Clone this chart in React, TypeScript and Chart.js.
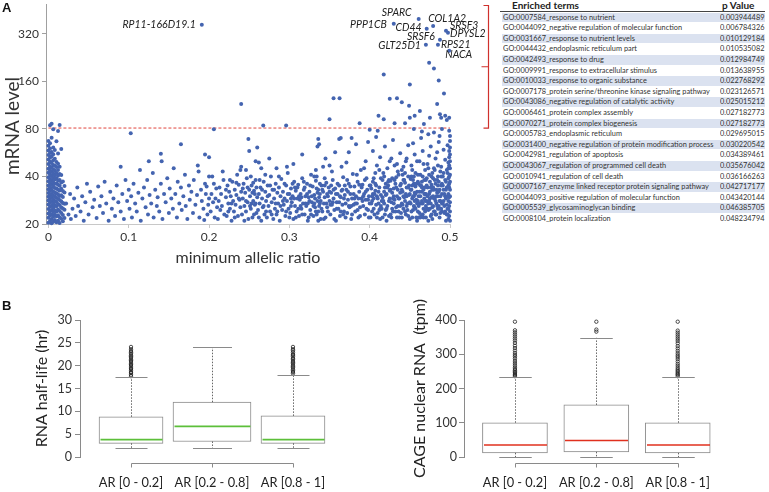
import React, { useEffect, useRef } from "react";
import { Chart, registerables } from "chart.js";
Chart.register(...registerables);

const FONT = "Lato, 'Open Sans', sans-serif";
const BLUE = "#4464b0";

// ---------------- Panel A: scatter data ----------------
const scatterXTicks = [0, 0.1, 0.2, 0.3, 0.4, 0.5];
const scatterYTicks = [20, 40, 80, 160, 320];
const thresholdLevel = 81;

const nearZeroPts: number[][] = [
  [0,20.4],[0,21.9],[0,23.3],[0,24.9],[0,26.6],[0,28.2],[0,29.7],[0,31.4],[0,33.2],[0,35.1],[0,37.3],[0,39.6],[0,42.2],[0,44.8],[0,47.9],[0,51.2],[0,54.6],[0,58.3],[0,62.5],[0,67.1],
  [0.002,20.9],[0.002,22.6],[0.002,24.1],[0.002,25.7],[0.002,27.4],[0.002,29.0],[0.002,30.6],[0.002,32.3],[0.002,34.2],[0.002,36.4],[0.002,38.5],[0.002,41.0],[0.002,43.4],[0.002,46.3],[0.002,49.5],[0.002,52.8],[0.002,56.4],[0.002,60.2],[0.002,64.8],[0.002,84.5],
  [0.004,20.2],[0.004,21.5],[0.004,23.0],[0.004,24.5],[0.004,26.1],[0.004,27.8],[0.004,29.4],[0.004,31.0],[0.004,32.9],[0.004,35.6],[0.004,37.9],[0.004,40.2],[0.004,42.9],[0.004,45.5],[0.004,48.7],[0.004,53.5],[0.004,57.1],[0.004,70.3],[0.004,86.2],
  [0.006,20.7],[0.006,22.2],[0.006,23.8],[0.006,25.3],[0.006,27.0],[0.006,28.6],[0.006,30.3],[0.006,32.0],[0.006,34.6],[0.006,36.8],[0.006,39.1],[0.006,41.7],[0.006,44.3],[0.006,47.2],[0.006,50.6],[0.006,55.3],[0.006,61.0],[0.006,79.5],
  [0.008,21.2],[0.008,22.9],[0.008,24.4],[0.008,26.3],[0.008,28.0],[0.008,29.9],[0.008,31.8],[0.008,33.8],[0.008,35.9],[0.008,38.2],[0.008,40.7],[0.008,43.6],[0.008,46.8],[0.008,51.7],[0.008,58.9],
  [0.010,20.5],[0.010,22.4],[0.010,24.0],[0.010,25.9],[0.010,27.6],[0.010,29.3],[0.010,31.2],[0.010,33.5],[0.010,36.1],[0.010,38.9],[0.010,42.0],[0.010,45.9],[0.010,49.3],[0.010,66.8],
  [0.012,21.0],[0.012,22.7],[0.012,24.7],[0.012,26.8],[0.012,28.8],[0.012,30.9],[0.012,33.0],[0.012,35.4],[0.012,37.6],[0.012,40.4],[0.012,44.0],[0.012,48.2],[0.012,55.8],[0.012,77.6],
  [0.014,20.3],[0.014,22.1],[0.014,24.2],[0.014,26.4],[0.014,28.4],[0.014,30.1],[0.014,32.6],[0.014,34.9],[0.014,38.0],[0.014,41.5],[0.014,46.0],[0.014,84.8],
  [0.016,21.6],[0.016,23.5],[0.016,25.5],[0.016,27.9],[0.016,30.4],[0.016,33.4],[0.016,36.6],[0.016,40.9],[0.016,59.6],
  [0.018,20.8],[0.018,22.8],[0.018,25.1],[0.018,27.2],[0.018,29.6],[0.018,32.4],[0.018,37.2],
  [0.020,21.8],[0.020,24.6],[0.020,26.9],[0.020,31.7],[0.020,34.8],
];

const sparsePts: number[][] = [
  [0.022,27],[0.025,23],[0.027,31],[0.028,21.5],[0.03,25],[0.032,29],[0.034,22.5],[0.036,34],[0.037,26],[0.04,24],
  [0.042,30],[0.044,21],[0.046,27.5],[0.048,36],[0.05,23],[0.052,32],[0.055,25.5],[0.057,28.5],[0.06,21.8],[0.062,34.5],
  [0.064,26],[0.066,30],[0.068,23.5],[0.07,37],[0.072,27],[0.075,21],[0.077,32],[0.079,25],[0.081,29],[0.083,22.5],
  [0.085,35],[0.087,27.5],[0.09,24],[0.092,31],[0.094,21.5],[0.096,38],[0.098,28],[0.1,33],[0.101,25],[0.103,30],
  [0.104,22],[0.106,36],[0.108,27],[0.11,24],[0.112,31.5],[0.114,44],[0.115,21],[0.117,29],[0.119,34],[0.121,25.5],
  [0.123,38],[0.124,23],[0.126,30.5],[0.128,27],[0.13,42],[0.131,22],[0.133,33],[0.135,26],[0.136,29.5],[0.138,24],
  [0.14,36],[0.141,50],[0.142,21.5],[0.144,31],[0.146,27.5],[0.148,39],[0.15,23.5],[0.151,33.5],[0.153,29],[0.155,25],
  [0.156,45],[0.158,31],[0.16,22],[0.161,37],[0.163,27],[0.165,34],[0.166,24.5],[0.168,30],[0.17,41],[0.171,26],
  [0.173,21.5],[0.175,35],[0.176,28.5],[0.178,32],[0.18,23.5],[0.181,38],[0.183,26.5],[0.185,30.5],[0.186,47],[0.188,22],
  [0.19,33],[0.191,28],[0.193,25],[0.195,36],[0.196,31],[0.198,23],[0.2,29],[0.2,40],[0.199,26.5],[0.197,34.5],
  [0.194,21.2],[0.187,43],[0.09,46],[0.125,50],[0.195,55],[0.2,53],[0.14,55.6],[0.165,64],[0.1025,75],
];

const midPts: number[][] = [
  [0.202,24],[0.203,31],[0.205,27.5],[0.206,36],[0.207,22],[0.208,29],[0.209,33.5],[0.21,25.5],[0.204,40],
  [0.211,21.5],[0.212,28],[0.213,34],[0.214,24.5],[0.215,31],[0.216,26],[0.218,38],[0.219,23],[0.217,43],
  [0.221,29.5],[0.222,22.5],[0.223,35],[0.224,27],[0.225,32],[0.226,25],[0.227,30],[0.228,21],[0.229,37],[0.23,28],
  [0.231,24],[0.232,33],[0.233,26.5],[0.234,30.5],[0.235,41],[0.236,22.5],[0.237,35.5],[0.238,28.5],[0.239,25.5],[0.24,32],[0.24,46],
  [0.241,23],[0.242,29],[0.243,36],[0.244,26],[0.245,31.5],[0.246,24],[0.247,39],[0.248,27.5],[0.249,21.5],[0.25,33],[0.25,58],[0.246,44],
  [0.251,30],[0.252,25],[0.253,35],[0.254,22],[0.255,28],[0.256,32.5],[0.257,26.5],[0.258,38],[0.259,23.5],[0.26,29.5],[0.253,27],[0.257,31],[0.255,36.5],[0.26,61],[0.258,50],
  [0.261,24.5],[0.262,31],[0.263,27],[0.264,34],[0.265,21],[0.266,29],[0.267,25.5],[0.268,37],[0.269,23],[0.27,32],[0.265,45],
  [0.271,28],[0.272,22],[0.273,35],[0.274,26],[0.275,30.5],[0.276,24],[0.277,40],[0.278,27.5],[0.279,33],[0.28,21.5],[0.275,52],
  [0.281,29],[0.282,25],[0.283,36],[0.284,23],[0.285,31.5],[0.286,27],[0.287,34],[0.288,21],[0.289,30],[0.29,38.5],
  [0.291,24.5],[0.292,32],[0.293,26.5],[0.294,29],[0.295,22.5],[0.296,35],[0.297,28],[0.298,42],[0.299,25],[0.3,31],
  [0.301,23.5],[0.302,33.5],[0.303,27.5],[0.304,30],[0.305,21.5],[0.306,37],[0.307,26],[0.308,32.5],[0.309,24],[0.31,29],[0.305,48],
  [0.311,35.5],[0.312,22.5],[0.313,28.5],[0.314,31],[0.315,25],[0.316,39],[0.317,27],[0.318,33],[0.319,23],[0.32,30],[0.316,55],
  [0.321,26],[0.322,36],[0.323,21],[0.324,29.5],[0.325,32],[0.326,24.5],[0.327,41],[0.328,27.5],[0.329,34.5],[0.33,22.5],[0.325,28],
  [0.331,30.5],[0.332,25.5],[0.333,37.5],[0.334,23],[0.335,28],[0.336,33],[0.337,26],[0.338,31],[0.339,21.5],[0.34,35],[0.332,29],[0.334,40],[0.336,24],[0.338,27],[0.333,44],[0.335,62],[0.337,64],
  [0.341,24],[0.342,32],[0.343,27],[0.344,29.5],[0.345,22],[0.346,36.5],[0.347,25.5],[0.348,30],[0.349,34],[0.35,28],[0.35,47],[0.345,52],
  [0.351,23],[0.352,31.5],[0.353,26.5],[0.354,38],[0.355,29],[0.356,24.5],[0.357,33.5],[0.358,21],[0.359,27.5],[0.36,31],[0.353,43],[0.357,57],
  [0.361,25],[0.362,35],[0.363,22.5],[0.364,29.5],[0.365,32.5],[0.366,26.5],[0.367,39.5],[0.368,24],[0.369,30.5],[0.37,27],[0.362,69],[0.365,46],
  [0.371,33],[0.372,23.5],[0.373,28.5],[0.374,36],[0.375,25.5],[0.376,31],[0.377,21.5],[0.378,29],[0.379,41.5],[0.38,26.5],[0.374,57],
  [0.381,34.5],[0.382,24],[0.383,30],[0.384,27],[0.385,37],[0.386,22],[0.387,32],[0.388,25.5],[0.389,44],[0.39,29],[0.383,64],
  [0.391,35.5],[0.392,26],[0.393,31],[0.394,23],[0.395,28.5],[0.396,39],[0.397,33],[0.398,24.5],[0.399,30],[0.4,27],[0.395,50],[0.398,66],
];

const densePts: number[][] = [
  [0.401,22],[0.402,33.5],[0.403,28],[0.404,37],[0.405,25],[0.406,31],[0.407,42],[0.408,26.5],[0.409,30],[0.41,23.5],[0.401,35],[0.403,24],[0.405,29],[0.407,32.5],[0.409,47],[0.404,58],[0.408,71],
  [0.411,27],[0.412,34],[0.413,21.5],[0.414,30.5],[0.415,25],[0.416,38],[0.417,28],[0.418,32],[0.419,23],[0.42,36],[0.412,44],[0.414,26],[0.416,29.5],[0.418,40],[0.42,24.5],[0.413,53],[0.419,62],
  [0.421,31],[0.422,26],[0.423,35],[0.424,22.5],[0.425,29],[0.426,33],[0.427,27.5],[0.428,39],[0.429,24],[0.43,30],[0.422,45],[0.424,28],[0.426,37.5],[0.428,25],[0.43,33.5],[0.421,21],[0.425,50],[0.429,68],
  [0.431,28.5],[0.432,24],[0.433,34],[0.434,30],[0.435,26],[0.436,41],[0.437,22],[0.438,31.5],[0.439,36],[0.44,27],[0.431,38],[0.433,25.5],[0.435,33],[0.437,29],[0.439,23.5],[0.434,48],[0.438,56],[0.44,44],
  [0.441,32],[0.442,25],[0.443,29.5],[0.444,36.5],[0.445,23],[0.446,34],[0.447,27],[0.448,40],[0.449,30.5],[0.45,21.5],[0.441,26.5],[0.443,38],[0.445,31],[0.447,24.5],[0.449,35],[0.442,46],[0.446,52],[0.448,63],[0.444,28],
  [0.451,27],[0.452,33],[0.453,22],[0.454,30],[0.455,36],[0.456,25.5],[0.457,42],[0.458,28.5],[0.459,32],[0.46,24],[0.451,38.5],[0.453,29],[0.455,26],[0.457,34.5],[0.459,21],[0.452,47],[0.456,55],[0.46,37],[0.454,65],
  [0.461,30],[0.462,23.5],[0.463,35],[0.464,27],[0.465,32],[0.466,40],[0.467,25],[0.468,29],[0.469,44],[0.47,26],[0.461,36],[0.463,22],[0.465,28],[0.467,33],[0.469,24],[0.462,50],[0.466,58],[0.468,38],[0.47,31],[0.464,70],
  [0.471,28],[0.472,34],[0.473,24.5],[0.474,31],[0.475,37],[0.476,22.5],[0.477,29.5],[0.478,42],[0.479,26],[0.48,33],[0.471,39],[0.473,27],[0.475,25],[0.477,35.5],[0.479,30],[0.472,48],[0.474,54],[0.476,62],[0.478,21.5],[0.48,45],[0.473,74],
  [0.481,29],[0.482,36],[0.483,23],[0.484,31.5],[0.485,40],[0.486,26],[0.487,33],[0.488,28],[0.489,46],[0.49,24],[0.481,38],[0.483,27],[0.485,30],[0.487,22],[0.489,35],[0.482,52],[0.484,57],[0.486,66],[0.488,43],[0.49,31],[0.485,25],[0.487,72],
];

const fillPts: number[][] = [
  [0.221,33],[0.224,24],[0.226,38],[0.228,27],[0.232,22],[0.234,36.5],[0.237,29],[0.239,44],[0.242,33.5],[0.244,21],
  [0.246,28],[0.248,34],[0.251,26],[0.252,40],[0.254,31.5],[0.256,23],[0.258,27],[0.259,34],[0.262,22],[0.263,38],
  [0.266,33],[0.268,26],[0.271,24],[0.273,30],[0.276,35],[0.278,23],[0.281,33],[0.283,27],[0.285,24],[0.287,40],
  [0.289,26],[0.292,28],[0.294,36],[0.296,24],[0.298,31],[0.3,22],[0.284,45],[0.262,49],[0.27,41],[0.297,46],
  [0.302,26],[0.304,36],[0.306,29],[0.308,22],[0.31,34],[0.312,30],[0.314,26],[0.316,23],[0.318,37],[0.32,27],
  [0.322,31],[0.324,22],[0.326,35],[0.328,30],[0.33,26],[0.331,40],[0.333,24],[0.335,31.5],[0.336,21],[0.338,36],
  [0.339,28],[0.341,33],[0.343,21.5],[0.344,39],[0.346,27],[0.348,24],[0.35,32],[0.352,35],[0.354,27.5],[0.356,21.5],
  [0.358,31],[0.36,36],[0.362,27.5],[0.364,24],[0.366,33],[0.368,29],[0.37,22],[0.372,38],[0.374,26],[0.376,34.5],
  [0.378,23],[0.38,31],[0.382,27],[0.384,41],[0.386,29],[0.388,22.5],[0.39,34],[0.392,30],[0.394,38],[0.396,25],
  [0.398,28.5],[0.4,35],[0.342,46],[0.371,49],[0.393,45],
  [0.402,27],[0.404,31],[0.406,23],[0.408,35],[0.41,29],[0.412,24.5],[0.414,39],[0.416,22],[0.418,27],[0.42,30.5],
  [0.422,34],[0.424,38],[0.426,23],[0.428,31.5],[0.43,27],[0.432,36],[0.434,22],[0.436,29],[0.438,26],[0.44,33],
  [0.442,38],[0.444,24],[0.446,30],[0.448,22.5],[0.45,27.5],[0.452,40],[0.454,24.5],[0.456,31.5],[0.458,36],[0.46,28],
  [0.462,32],[0.464,22.5],[0.466,27],[0.468,34],[0.47,22],[0.472,30],[0.474,41],[0.476,27],[0.478,33],[0.48,24],
  [0.482,28],[0.484,38],[0.486,32],[0.488,23.5],[0.49,36],[0.481,44],[0.483,33],[0.485,47],[0.487,28],[0.489,25],
  [0.471,35],[0.473,45],[0.475,29],[0.477,23],[0.479,39],[0.461,26],[0.463,41],[0.465,37],[0.467,48],[0.469,31],
  [0.451,33],[0.453,44],[0.455,30],[0.457,25],[0.459,50],[0.431,47],[0.435,43],[0.441,41],[0.445,50],[0.427,52],
];

const extraPts: number[][] = [
  [0.421,25],[0.423,37],[0.425,32.5],[0.427,22],[0.429,29],[0.433,39.5],[0.436,24],[0.438,35],[0.44,22],[0.442,30],
  [0.444,42],[0.446,26],[0.448,34],[0.45,31],[0.452,24],[0.454,38],[0.456,28],[0.458,22],[0.46,41],[0.462,27],
  [0.464,35],[0.466,23],[0.468,31],[0.47,38],[0.472,25],[0.474,28],[0.476,34],[0.478,25.5],[0.48,29],[0.482,23],
  [0.484,26],[0.486,37],[0.488,30],[0.49,27],[0.492,42],[0.494,30],[0.496,23],[0.498,45],[0.495,33],[0.493,26],
  [0.491,35],[0.489,40],[0.487,25],[0.485,35],[0.483,30],[0.481,24],[0.479,34],[0.477,40],[0.475,32],[0.473,21],
  [0.471,25],[0.469,28],[0.467,22],[0.465,34],[0.463,30],[0.461,22],[0.459,27],[0.457,31],[0.455,40],[0.453,35],
  [0.302,29],[0.307,34],[0.311,25],[0.315,29.5],[0.319,34],[0.323,27],[0.327,23],[0.331,27],[0.334,33.5],[0.337,29.5],
  [0.34,25],[0.344,35],[0.347,31],[0.351,26.5],[0.355,33],[0.359,25],[0.363,30],[0.367,23],[0.369,35],[0.373,32],
  [0.377,26],[0.381,29],[0.385,24.5],[0.387,35.5],[0.391,28],[0.395,32],[0.399,22],[0.403,30],[0.407,36],[0.411,32],
  [0.415,28],[0.419,34],[0.405,39],[0.413,25],[0.417,42],[0.409,22],
];

const edgePts: number[][] = [
  [0.491,27],[0.492,33],[0.493,23.5],[0.494,38],[0.495,29],[0.496,44],[0.497,25],[0.498,31],[0.499,36],[0.5,21],
  [0.5,24],[0.5,27.5],[0.5,30],[0.5,33],[0.5,37],[0.5,41],[0.5,45],[0.5,50],[0.5,55],[0.5,61],[0.5,67],
  [0.499,22.5],[0.499,26],[0.499,29.5],[0.499,34],[0.499,40],[0.499,47],[0.499,53],[0.499,58],
  [0.498,21.5],[0.498,25],[0.498,28],[0.498,35],[0.498,39],[0.498,49],[0.497,23],[0.497,30],[0.497,42],
  [0.496,26.5],[0.496,34],[0.495,21],[0.495,37],[0.494,24],[0.493,31],[0.492,28],[0.491,40],[0.494,51],
  [0.497,63],[0.492,59],[0.5,72],[0.499,78],
];

const highPts: number[][] = [
  [0.206,79.5],[0.24,115],[0.249,69],[0.2675,84],[0.296,84],[0.336,69],[0.35,92],[0.355,125],[0.3625,125],[0.364,70],
  [0.3775,70],[0.3875,87],[0.4,79],[0.411,97],[0.41,78],[0.4175,177],[0.4175,92],[0.425,124],[0.431,87],[0.434,125],
  [0.44,118],[0.444,87],[0.449,112],[0.45,153],[0.45,94],[0.455,80],[0.456,97],[0.4625,104],[0.465,77],[0.4675,86],
  [0.474,210],[0.475,94],[0.48,193],[0.48,76],[0.484,115],[0.486,162],[0.4875,99],[0.489,94],[0.49,80],[0.4925,134],
  [0.494,97],[0.496,91],[0.499,94],
];

const geneNames = ["RP11-166D19.1", "SPARC", "PPP1CB", "COL1A2", "CD44", "SRSF3", "DPYSL2", "SRSF6", "GLT25D1", "RPS21", "NACA"];
const geneRatio = [0.191, 0.461, 0.43, 0.479, 0.471, 0.495, 0.4975, 0.4875, 0.47, 0.485, 0.499];
const geneLevel = [365, 397, 370, 359, 344, 334, 325, 293, 273, 273, 250];

// ---------------- Enrichment table ----------------
const goTerms = [
  "GO:0007584_response to nutrient",
  "GO:0044092_negative regulation of molecular function",
  "GO:0031667_response to nutrient levels",
  "GO:0044432_endoplasmic reticulum part",
  "GO:0042493_response to drug",
  "GO:0009991_response to extracellular stimulus",
  "GO:0010033_response to organic substance",
  "GO:0007178_protein serine/threonine kinase signaling pathway",
  "GO:0043086_negative regulation of catalytic activity",
  "GO:0006461_protein complex assembly",
  "GO:0070271_protein complex biogenesis",
  "GO:0005783_endoplasmic reticulum",
  "GO:0031400_negative regulation of protein modification process",
  "GO:0042981_regulation of apoptosis",
  "GO:0043067_regulation of programmed cell death",
  "GO:0010941_regulation of cell death",
  "GO:0007167_enzyme linked receptor protein signaling pathway",
  "GO:0044093_positive regulation of molecular function",
  "GO:0005539_glycosaminoglycan binding",
  "GO:0008104_protein localization",
];
const goPValues = [
  "0.003944489", "0.006784326", "0.010129184", "0.010535082", "0.012984749",
  "0.013638955", "0.022768292", "0.023126571", "0.025015212", "0.027182773",
  "0.027182773", "0.029695015", "0.030220542", "0.034389461", "0.035676042",
  "0.036166263", "0.042717177", "0.043420144", "0.046385705", "0.048234794",
];

// ---------------- Panel B: box plots ----------------
const arCategories = ["AR [0 - 0.2]", "AR [0.2 - 0.8]", "AR [0.8 - 1]"];

const halfLifeTicks = [0, 5, 10, 15, 20, 25, 30];
const halfLifeLow = [2, 2, 2];
const halfLifeQ1 = [3, 3.4, 3];
const halfLifeMedian = [3.8, 6.7, 3.8];
const halfLifeQ3 = [8.8, 12, 9];
const halfLifeHigh = [17.5, 24, 18];
const halfLifeOutliers = [
  [17.7, 18.0, 18.4, 18.6, 19.0, 19.3, 19.5, 19.9, 20.2, 20.4, 20.8, 21.1, 21.3, 21.7, 22.0, 22.2, 22.6, 22.9, 23.2, 23.6, 24.1],
  [],
  [18.3, 18.6, 18.9, 19.2, 19.6, 19.8, 20.1, 20.5, 20.7, 21.0, 21.4, 21.6, 22.0, 22.3, 22.5, 22.9, 23.3, 23.6, 24.1],
];

const cageTicks = [0, 100, 200, 300, 400];
const cageLow = [0, 0, 0];
const cageQ1 = [12, 15, 12];
const cageMedian = [35, 48, 35];
const cageQ3 = [100, 152, 100];
const cageHigh = [233, 348, 233];
const cageOutliers = [
  [236, 239, 242, 246, 249, 253, 257, 262, 268, 274, 280, 287, 293, 298, 304, 311, 318, 325, 333, 340, 346, 352, 358, 364, 370, 395, 420],
  [366, 372, 395, 420],
  [236, 240, 243, 247, 251, 255, 260, 266, 272, 279, 286, 292, 297, 303, 310, 317, 324, 332, 339, 345, 351, 357, 363, 369, 395, 420],
];

// ---------------- styles ----------------
const GENE_LABEL_POS: { dx: number; dy: number; align: CanvasTextAlign }[] = [
  { dx: -6, dy: 0, align: "right" },
  { dx: -7, dy: -6, align: "right" },
  { dx: -7, dy: 1, align: "right" },
  { dx: -5, dy: -7, align: "left" },
  { dx: -5, dy: -1, align: "right" },
  { dx: 4, dy: -5, align: "left" },
  { dx: 2, dy: 1, align: "left" },
  { dx: -5, dy: -3, align: "right" },
  { dx: -5, dy: 1, align: "right" },
  { dx: 3, dy: 0, align: "left" },
  { dx: -4, dy: 4, align: "left" },
];

const toXY = (arr: number[][]) => arr.map(([x, y]) => ({ x, y }));

const zeroPad = (s: any) => {
  s.paddingTop = 0;
  s.paddingBottom = 0;
  s.paddingLeft = 0;
  s.paddingRight = 0;
};

const scatterDecor = {
  id: "scatterDecor",
  afterDatasetsDraw(chart: any) {
    const { ctx, chartArea, scales } = chart;
    const x = scales.x, y = scales.y;
    ctx.save();
    ctx.fillStyle = "#222";
    ctx.font = `italic 10.5px ${FONT}`;
    ctx.textBaseline = "middle";
    geneNames.forEach((n, i) => {
      const p = GENE_LABEL_POS[i];
      ctx.textAlign = p.align;
      ctx.fillText(n, x.getPixelForValue(geneRatio[i]) + p.dx, y.getPixelForValue(geneLevel[i]) + p.dy);
    });
    ctx.save();
    ctx.translate(13, 126);
    ctx.rotate(-Math.PI / 2);
    ctx.font = `19px ${FONT}`;
    ctx.fillStyle = "#333";
    ctx.textAlign = "center";
    ctx.fillText("mRNA level", 0, 0);
    ctx.restore();
    const bx = Math.round(chartArea.right + 38) + 0.5;
    const top = chartArea.top + 1.5;
    const bot = y.getPixelForValue(thresholdLevel);
    const mid = (top + bot) / 2;
    ctx.strokeStyle = "#d0312d";
    ctx.lineWidth = 1.2;
    ctx.beginPath();
    ctx.moveTo(bx - 5, top);
    ctx.lineTo(bx, top);
    ctx.lineTo(bx, bot);
    ctx.lineTo(bx - 5, bot);
    ctx.moveTo(bx, mid);
    ctx.lineTo(bx - 7, mid);
    ctx.stroke();
    ctx.restore();
  },
};

function boxDecor(id: string, low: number[], q1: number[], med: number[], q3: number[], high: number[], widths: number[], medianColor: string) {
  return {
    id,
    afterDatasetsDraw(chart: any) {
      const { ctx, chartArea, scales } = chart;
      const x = scales.x, y = scales.y;
      ctx.save();
      for (let i = 0; i < low.length; i++) {
        const cx = Math.round(x.getPixelForValue(i + 1)) + 0.5;
        const w = widths[i];
        ctx.strokeStyle = "#555";
        ctx.lineWidth = 0.9;
        ctx.setLineDash([1.5, 1.5]);
        ctx.beginPath();
        ctx.moveTo(cx, y.getPixelForValue(q3[i]));
        ctx.lineTo(cx, y.getPixelForValue(high[i]));
        ctx.moveTo(cx, y.getPixelForValue(q1[i]));
        ctx.lineTo(cx, y.getPixelForValue(low[i]));
        ctx.stroke();
        ctx.setLineDash([]);
        ctx.strokeStyle = "#8a8a8a";
        ctx.lineWidth = 1;
        const capHalf = w * 0.25;
        ctx.beginPath();
        const hy = Math.round(y.getPixelForValue(high[i])) + 0.5;
        const ly = Math.round(y.getPixelForValue(low[i])) + 0.5;
        ctx.moveTo(cx - capHalf, hy);
        ctx.lineTo(cx + capHalf, hy);
        ctx.moveTo(cx - capHalf, ly);
        ctx.lineTo(cx + capHalf, ly);
        ctx.stroke();
        ctx.strokeStyle = medianColor;
        ctx.lineWidth = 1.6;
        ctx.beginPath();
        const my = y.getPixelForValue(med[i]);
        ctx.moveTo(cx - w / 2 + 1, my);
        ctx.lineTo(cx + w / 2 - 1, my);
        ctx.stroke();
      }
      const ay = Math.round(chartArea.bottom + 6) + 0.5;
      ctx.strokeStyle = "#8a8a8a";
      ctx.lineWidth = 1;
      ctx.beginPath();
      const x1 = Math.round(x.getPixelForValue(1)) + 0.5;
      const x3 = Math.round(x.getPixelForValue(low.length)) + 0.5;
      ctx.moveTo(x1, ay);
      ctx.lineTo(x3, ay);
      for (let i = 0; i < low.length; i++) {
        const px = Math.round(x.getPixelForValue(i + 1)) + 0.5;
        ctx.moveTo(px, ay);
        ctx.lineTo(px, ay + 4);
      }
      ctx.stroke();
      ctx.restore();
    },
  };
}

function boxConfig(p: {
  low: number[]; q1: number[]; med: number[]; q3: number[]; high: number[]; outliers: number[][];
  ticks: number[]; yMax: number; title: string; medianColor: string; widths: number[];
  xMin: number; xMax: number; yWidth: number; padRight: number; titlePad: number; tickPad: number; id: string;
}): any {
  const boxSets = p.q1.map((q, i) => ({
    type: "bar",
    data: [{ x: i + 1, y: [q, p.q3[i]] }],
    backgroundColor: "#ffffff",
    borderColor: "#8a8a8a",
    borderWidth: 1,
    borderSkipped: false,
    barThickness: p.widths[i],
    grouped: false,
    order: 2,
  }));
  const outSet = {
    type: "scatter",
    data: p.outliers.flatMap((arr, i) => arr.map((v) => ({ x: i + 1, y: v }))),
    pointRadius: 1.7,
    pointBackgroundColor: "rgba(0,0,0,0)",
    pointBorderColor: "#222",
    pointBorderWidth: 0.8,
    clip: false,
    order: 1,
  };
  return {
    type: "bar",
    data: { datasets: [...boxSets, outSet] },
    options: {
      responsive: false,
      animation: false,
      devicePixelRatio: 1,
      layout: { padding: { left: 0, right: p.padRight, top: 30, bottom: 0 } },
      plugins: { legend: { display: false }, tooltip: { enabled: false } },
      scales: {
        x: {
          type: "linear",
          offset: false,
          min: p.xMin,
          max: p.xMax,
          afterBuildTicks: (s: any) => { s.ticks = arCategories.map((_, i) => ({ value: i + 1 })); },
          afterFit: (s: any) => { s.height = 35; zeroPad(s); },
          ticks: {
            callback: (v: number) => arCategories[Math.round(v) - 1] ?? "",
            font: { family: FONT, size: 12.8 },
            color: "#222",
            padding: 10,
            maxRotation: 0,
            autoSkip: false,
          },
          grid: { display: false, offset: false },
          border: { display: false },
        },
        y: {
          type: "linear",
          min: 0,
          max: p.yMax,
          afterBuildTicks: (s: any) => { s.ticks = p.ticks.map((v) => ({ value: v })); },
          afterFit: (s: any) => { s.width = p.yWidth; zeroPad(s); },
          ticks: { font: { family: FONT, size: 12.5 }, color: "#333", padding: p.tickPad },
          grid: { drawOnChartArea: false, drawTicks: true, tickLength: 5, color: "#8a8a8a" },
          border: { display: true, color: "#8a8a8a" },
          title: {
            display: true,
            text: p.title,
            font: { family: FONT, size: 16 },
            color: "#222",
            padding: { top: p.titlePad, bottom: 0 },
          },
        },
      },
    },
    plugins: [boxDecor(p.id, p.low, p.q1, p.med, p.q3, p.high, p.widths, p.medianColor)],
  };
}

export default function App() {
  const scatterRef = useRef<HTMLCanvasElement>(null);
  const halfRef = useRef<HTMLCanvasElement>(null);
  const cageRef = useRef<HTMLCanvasElement>(null);

  useEffect(() => {
    const allPts = [...nearZeroPts, ...sparsePts, ...midPts, ...densePts, ...fillPts, ...extraPts, ...edgePts, ...highPts];
    const scatter = new Chart(scatterRef.current as HTMLCanvasElement, {
      type: "scatter",
      data: {
        datasets: [
          {
            type: "scatter",
            data: toXY(allPts),
            pointRadius: 2,
            pointBackgroundColor: BLUE,
            pointBorderWidth: 0,
            clip: false,
          } as any,
          {
            type: "scatter",
            data: geneRatio.map((x, i) => ({ x, y: geneLevel[i] })),
            pointRadius: 2,
            pointBackgroundColor: BLUE,
            pointBorderWidth: 0,
            clip: false,
          } as any,
          {
            type: "line",
            data: [{ x: 0, y: thresholdLevel }, { x: 0.5, y: thresholdLevel }],
            borderColor: "#e0443c",
            borderWidth: 1,
            borderDash: [3, 2],
            pointRadius: 0,
            fill: false,
          } as any,
        ],
      },
      options: {
        responsive: false,
        animation: false,
        devicePixelRatio: 1,
        layout: { padding: { left: 0, right: 50, top: 2, bottom: 0 } },
        plugins: { legend: { display: false }, tooltip: { enabled: false } },
        scales: {
          x: {
            type: "linear",
            min: -0.003,
            max: 0.5,
            afterBuildTicks: (s: any) => { s.ticks = scatterXTicks.map((v) => ({ value: v })); },
            afterFit: (s: any) => { s.height = 48; zeroPad(s); },
            ticks: {
              callback: (v: any) => (v === 0 ? "0" : Number(v).toFixed(1)),
              font: { family: FONT, size: 12 },
              color: "#333",
              padding: 2,
              maxRotation: 0,
              autoSkip: false,
            },
            grid: { drawOnChartArea: false, drawTicks: true, tickLength: 4, color: "#c8c8c8" },
            border: { display: true, color: "#c8c8c8" },
            title: {
              display: true,
              text: "minimum allelic ratio",
              font: { family: FONT, size: 16 },
              color: "#333",
              padding: { top: 0, bottom: 5 },
            },
          },
          y: {
            type: "logarithmic",
            min: 20,
            max: 494,
            afterBuildTicks: (s: any) => { s.ticks = scatterYTicks.map((v) => ({ value: v })); },
            afterFit: (s: any) => { s.width = 46; zeroPad(s); },
            ticks: {
              callback: (v: any) => String(v),
              font: { family: FONT, size: 12 },
              color: "#333",
              padding: 3,
              autoSkip: false,
            },
            grid: { drawOnChartArea: false, drawTicks: true, tickLength: 4, color: "#a0a0a0" },
            border: { display: true, color: "#a0a0a0" },
          },
        },
      } as any,
      plugins: [scatterDecor],
    });

    const half = new Chart(
      halfRef.current as HTMLCanvasElement,
      boxConfig({
        id: "halfDecor",
        low: halfLifeLow, q1: halfLifeQ1, med: halfLifeMedian, q3: halfLifeQ3, high: halfLifeHigh,
        outliers: halfLifeOutliers, ticks: halfLifeTicks, yMax: 30,
        title: "RNA half-life (hr)", medianColor: "#5cbf3a", widths: [64, 78, 64],
        xMin: 0.37, xMax: 3.63, yWidth: 80, padRight: 36, titlePad: 32, tickPad: 3,
      })
    );
    const cage = new Chart(
      cageRef.current as HTMLCanvasElement,
      boxConfig({
        id: "cageDecor",
        low: cageLow, q1: cageQ1, med: cageMedian, q3: cageQ3, high: cageHigh,
        outliers: cageOutliers, ticks: cageTicks, yMax: 400,
        title: "CAGE nuclear RNA  (tpm)", medianColor: "#e0301e", widths: [65, 65, 65],
        xMin: 0.374, xMax: 3.63, yWidth: 84, padRight: 40, titlePad: 30, tickPad: 2,
      })
    );

    return () => {
      scatter.destroy();
      half.destroy();
      cage.destroy();
    };
  }, []);

  const cellText = { position: "absolute", top: 0, fontSize: 8, lineHeight: "9.6px", whiteSpace: "nowrap", transform: "scaleX(0.92)", transformOrigin: "left center" } as const;

  return (
    <div style={{ position: "fixed", left: 0, top: 0, width: 769, height: 492, background: "#fff", overflow: "hidden", fontFamily: FONT }}>
      <canvas ref={scatterRef} width={500} height={272} style={{ position: "absolute", left: 0, top: 0, width: 500, height: 272 }} />
      <canvas ref={halfRef} width={380} height={202} style={{ position: "absolute", left: 0, top: 290, width: 380, height: 202 }} />
      <canvas ref={cageRef} width={389} height={202} style={{ position: "absolute", left: 380, top: 290, width: 389, height: 202 }} />
      <div style={{ position: "absolute", left: 2, top: 0, font: "bold 13px Arial, 'Liberation Sans', sans-serif", color: "#111" }}>A</div>
      <div style={{ position: "absolute", left: 2, top: 298, font: "bold 13px Arial, 'Liberation Sans', sans-serif", color: "#111" }}>B</div>
      <div style={{ position: "absolute", left: 500, top: 0, width: 266, color: "#333" }}>
        <div style={{ position: "absolute", left: 0, top: 0, width: 265, height: 12, borderBottom: "1px solid #444", boxSizing: "border-box" }}>
          <span style={{ position: "absolute", left: 12, top: 0, fontSize: 10, fontWeight: 700, lineHeight: "11px", color: "#222", whiteSpace: "nowrap" }}>Enriched terms</span>
          <span style={{ position: "absolute", left: 222, top: 0, fontSize: 10, fontWeight: 700, lineHeight: "11px", color: "#222", whiteSpace: "nowrap" }}>p Value</span>
        </div>
        {goTerms.map((t, i) => (
          <div
            key={i}
            style={{
              position: "absolute",
              left: 2,
              top: 12.6 + i * 10.6,
              width: 263,
              height: 9.6,
              background: i % 2 === 0 ? "#dbe2f0" : "transparent",
            }}
          >
            <span style={{ ...cellText, left: 1 }}>{t}</span>
            <span style={{ ...cellText, left: 218 }}>{goPValues[i]}</span>
          </div>
        ))}
      </div>
    </div>
  );
}
